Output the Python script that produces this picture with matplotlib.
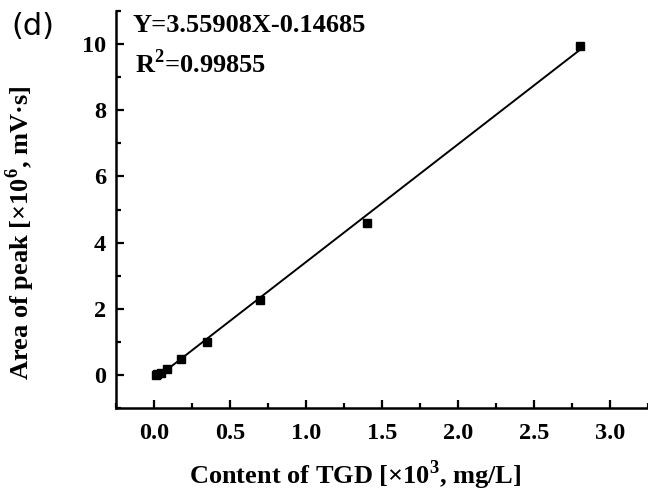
import matplotlib
matplotlib.use("Agg")
import matplotlib.pyplot as plt
import numpy as np
from matplotlib.ticker import MultipleLocator

# TGD content [x10^3 mg/L] and peak area [x10^6 mV*s]
content = [0.011, 0.022, 0.044, 0.088, 0.175, 0.35, 0.70, 1.40, 2.80]
area = [0.01, 0.03, 0.07, 0.17, 0.47, 1.00, 2.27, 4.60, 9.95]
slope = 3.55908
intercept = -0.14685
r_squared = 0.99855

plt.rcParams["font.family"] = ["Liberation Serif", "DejaVu Serif"]
plt.rcParams["font.weight"] = "bold"
plt.rcParams["mathtext.fontset"] = "custom"
plt.rcParams["mathtext.rm"] = "Liberation Serif:bold"
plt.rcParams["mathtext.bf"] = "Liberation Serif:bold"

fig = plt.figure(figsize=(6.48, 4.93), dpi=100)
ax = fig.add_axes([0.1790, 0.1724, 0.8210, 0.8053])

fit_x = np.array([content[0], content[-1]])
ax.plot(fit_x, slope * fit_x + intercept, color="black", linewidth=1.4)
ax.plot(content, area, "s", color="black", markersize=6)

ax.set_xlim(-0.25, 3.25)
ax.set_ylim(-1, 11)
ax.xaxis.set_major_locator(MultipleLocator(0.5))
ax.xaxis.set_minor_locator(MultipleLocator(0.25))
ax.yaxis.set_major_locator(MultipleLocator(2))
ax.yaxis.set_minor_locator(MultipleLocator(1))

for side in ("top", "right"):
    ax.spines[side].set_visible(False)
for side in ("left", "bottom"):
    ax.spines[side].set_linewidth(1.8)

ax.tick_params(which="major", direction="in", length=6, width=1.6, labelsize=17.5)
ax.tick_params(axis="y", which="major", pad=7)
ax.tick_params(axis="x", which="major", pad=11)
ax.tick_params(which="minor", direction="in", length=3.5, width=1.6)
for lbl in ax.get_xticklabels() + ax.get_yticklabels():
    lbl.set_fontweight("bold")

ax.set_xlabel("Content of TGD [×10$^{\\mathbf{3}}$, mg/L]", fontsize=19, fontweight="bold")
ax.set_ylabel("Area of peak [×10$^{\\mathbf{6}}$, mV·s]", fontsize=19, fontweight="bold")
ax.xaxis.set_label_coords(0.45, -0.128)
ax.yaxis.set_label_coords(-0.148, 0.44)

fig.text(0.205, 0.949, f"Y={slope}X{intercept}", fontsize=19, fontweight="bold", va="center")
fig.text(0.209, 0.872, f"R$^{{\\mathbf{{2}}}}$={r_squared}", fontsize=19, fontweight="bold", va="center")
fig.text(0.018, 0.947, "(d)", fontsize=22, family="DejaVu Sans", fontweight="normal", va="center")

fig.savefig("out.png", dpi=100)
